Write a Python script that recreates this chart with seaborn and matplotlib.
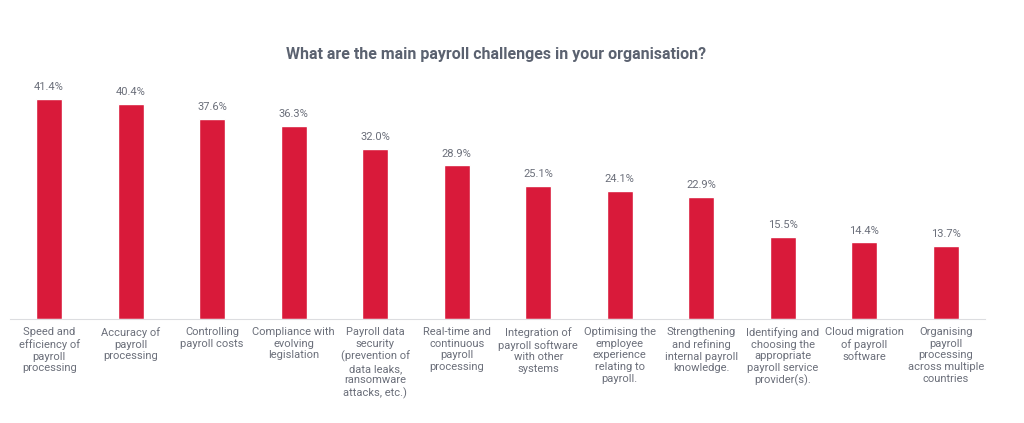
import matplotlib
matplotlib.use("Agg")
import matplotlib.pyplot as plt
import seaborn as sns
import pandas as pd

BAR_COLOR = "#d91a3a"
TEXT_COLOR = "#6b6f7a"
TITLE_COLOR = "#5b6270"

challenges = [
    "Speed and\nefficiency of\npayroll\nprocessing",
    "Accuracy of\npayroll\nprocessing",
    "Controlling\npayroll costs",
    "Compliance with\nevolving\nlegislation",
    "Payroll data\nsecurity\n(prevention of\ndata leaks,\nransomware\nattacks, etc.)",
    "Real-time and\ncontinuous\npayroll\nprocessing",
    "Integration of\npayroll software\nwith other\nsystems",
    "Optimising the\nemployee\nexperience\nrelating to\npayroll.",
    "Strengthening\nand refining\ninternal payroll\nknowledge.",
    "Identifying and\nchoosing the\nappropriate\npayroll service\nprovider(s).",
    "Cloud migration\nof payroll\nsoftware",
    "Organising\npayroll\nprocessing\nacross multiple\ncountries",
]
shares = [41.4, 40.4, 37.6, 36.3, 32.0, 28.9, 25.1, 24.1, 22.9, 15.5, 14.4, 13.7]

df = pd.DataFrame({"challenge": challenges, "share": shares})

sns.set_theme(style="white")
plt.rcParams["font.family"] = ["Roboto", "DejaVu Sans"]

fig = plt.figure(figsize=(10.24, 4.23), dpi=100)
ax = fig.add_axes([0.0098, 0.246, 0.952, 0.565])

sns.barplot(data=df, x="challenge", y="share", color=BAR_COLOR, width=0.32,
            saturation=1, ax=ax)

for i, v in enumerate(shares):
    ax.text(i, v + 1.3, f"{v:.1f}%", ha="center", va="bottom",
            fontsize=8, color=TEXT_COLOR)

ax.set_xlim(-0.48, 11.48)
ax.set_ylim(0, 45)
ax.set_yticks([])
ax.set_xlabel("")
ax.set_ylabel("")
for side in ["top", "right", "left"]:
    ax.spines[side].set_visible(False)
ax.spines["bottom"].set_color("#dcdde0")
ax.spines["bottom"].set_linewidth(0.8)
ax.tick_params(axis="x", length=0, pad=6, labelsize=8, labelcolor=TEXT_COLOR)
for lab in ax.get_xticklabels():
    lab.set_linespacing(1.2)
    lab.set_va("top")

fig.text(0.484, 0.87, "What are the main payroll challenges in your organisation?",
         ha="center", va="center", fontsize=11.5, fontweight="bold", color=TITLE_COLOR)

fig.savefig("out.png", dpi=100, facecolor="white")
